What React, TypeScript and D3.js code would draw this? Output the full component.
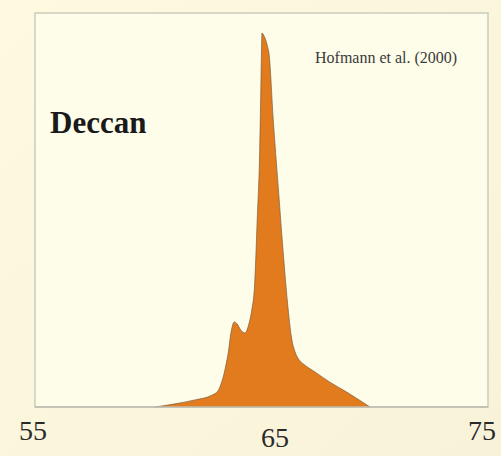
import React from "react";
import * as d3 from "d3";

// Age (Ma) sample points of the age-distribution curve
const ages: number[] = [
  60.3, 61.18, 62.06, 62.81, 63.08, 63.21, 63.31, 63.43, 63.53, 63.65, 63.8, 63.92,
  64.09, 64.27, 64.43, 64.57, 64.69, 64.81, 64.92, 64.97, 65.0, 65.02, 65.11, 65.19,
  65.27, 65.33, 65.52, 65.74, 65.96, 66.15, 66.32, 66.5, 66.7, 66.85, 67.36, 68.02,
  68.76, 69.35, 69.79,
];
// Relative probability density at each age
const density: number[] = [
  0, 0.008, 0.018, 0.03, 0.041, 0.058, 0.076, 0.107, 0.137, 0.188, 0.216, 0.211,
  0.195, 0.188, 0.208, 0.246, 0.305, 0.475, 0.652, 0.805, 0.906, 0.949, 0.942, 0.931,
  0.914, 0.898, 0.728, 0.558, 0.391, 0.264, 0.178, 0.137, 0.117, 0.109, 0.089, 0.063,
  0.038, 0.0165, 0,
];
const tickValues: number[] = [55, 65, 75];
const tickLabels: string[] = ["55", "65", "75"];
const regionLabel = "Deccan";
const sourceLabel = "Hofmann et al. (2000)";

const W = 501;
const H = 456;
const box = { left: 35, top: 13, right: 488, bottom: 407 };
// label placement tweaks as in the original slide
const tickDx: Record<number, number> = { 55: -2, 65: 13.5, 75: -6 };
const tickY: Record<number, number> = { 55: 440, 65: 447, 75: 440 };
const SERIF = '"Liberation Serif", "DejaVu Serif", "Times New Roman", Times, serif';

export default function App() {
  const x = d3.scaleLinear().domain([55, 75]).range([box.left, box.right]);
  const y = d3.scaleLinear().domain([0, 1]).range([box.bottom, box.top]);
  const pts = ages.map((a, i) => [a, density[i]] as [number, number]);
  const area = d3
    .area<[number, number]>()
    .x((d) => x(d[0]))
    .y0(y(0))
    .y1((d) => y(d[1]))
    .curve(d3.curveMonotoneX);
  const line = d3
    .line<[number, number]>()
    .x((d) => x(d[0]))
    .y((d) => y(d[1]))
    .curve(d3.curveMonotoneX);

  return (
    <div style={{ position: "fixed", left: 0, top: 0, width: W, height: H }}>
      <svg width={W} height={H} style={{ display: "block" }}>
        <defs>
          <linearGradient id="bg" x1="0" y1="0" x2="1" y2="1">
            <stop offset="0%" stopColor="#fdfae0" />
            <stop offset="100%" stopColor="#f8f2d8" />
          </linearGradient>
        </defs>
        <rect x={0} y={0} width={W} height={H} fill="url(#bg)" />
        <rect
          x={box.left}
          y={box.top}
          width={box.right - box.left}
          height={box.bottom - box.top}
          fill="#fefde9"
          stroke="#cfcfc0"
          strokeWidth={1.6}
        />
        <path d={area(pts) || ""} fill="#e27b1e" />
        <path d={line(pts) || ""} fill="none" stroke="#6e5638" strokeWidth={0.8} strokeOpacity={0.8} />
        <line
          x1={box.left}
          x2={box.right}
          y1={y(0)}
          y2={y(0)}
          stroke="#bdbdb0"
          strokeWidth={1.4}
        />
        <text
          x={50}
          y={133}
          style={{ fontFamily: SERIF, fontWeight: "bold", fontSize: "31px" }}
          fill="#1a1a1a"
        >
          {regionLabel}
        </text>
        <text x={315} y={63} style={{ fontFamily: SERIF, fontSize: "16px" }} fill="#3a3a3a">
          {sourceLabel}
        </text>
        {tickValues.map((v, i) => (
          <text
            key={v}
            x={x(v) + tickDx[v]}
            y={tickY[v]}
            textAnchor="middle"
            style={{ fontFamily: SERIF, fontSize: "28px" }}
            fill="#2a2a2a"
          >
            {tickLabels[i]}
          </text>
        ))}
      </svg>
    </div>
  );
}
